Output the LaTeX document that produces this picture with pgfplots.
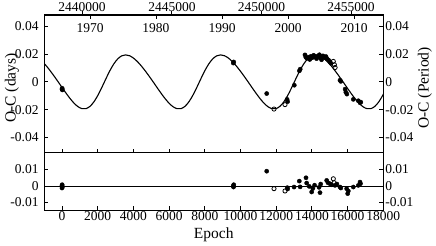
\documentclass[border=0pt]{standalone}
\usepackage{fontspec}
\setmainfont{Liberation Serif}
\usepackage{pgfplots}
\pgfplotsset{compat=1.18}
\pgfplotsset{
  base/.style={scale only axis, width=339.15pt, xmin=-1000, xmax=18000,
    scaled x ticks=false, scaled y ticks=false,
    tick align=inside, major tick length=4pt,
    axis line style={line width=1.1pt},
    every tick/.style={black, line width=0.9pt},
    tick label style={font=\fontsize{13.5}{15}\selectfont},
    label style={font=\fontsize{15.5}{17}\selectfont}},
  filled/.style={only marks, mark=*, mark size=2.1pt, black},
  open/.style={only marks, mark=o, mark size=2.1pt, black, mark options={fill=white, line width=0.8pt}},
}
\begin{document}
\begin{tikzpicture}
\useasboundingbox (0pt,0pt) rectangle (436pt,246pt);
% ---------------- upper panel (main) ----------------
\begin{axis}[base, at={(44.15pt,93.3pt)}, anchor=south west, height=137.7pt,
  ymin=-0.0511, ymax=0.0483,
  xtick={0,2000,...,18000}, xticklabels={}, xtick pos=lower,
  ytick={-0.04,-0.02,0,0.02,0.04}, yticklabels={-0.04,-0.02,0,0.02,0.04},
  ytick pos=left, yticklabel style={xshift=-2pt},
  ylabel={O-C (days)}, ylabel style={at={(axis description cs:-0.095,0.47)}, anchor=center}]
\addplot[black, line width=1.1pt, smooth] coordinates {
(-1089,0.01457) (-867,0.01139) (-646,0.00777) (-424,0.00387) (-202,-0.00019) (19,-0.00432)
(241,-0.00838) (463,-0.01217) (684,-0.01547) (906,-0.01796) (1128,-0.01933) (1349,-0.01928)
(1571,-0.01761) (1793,-0.01430) (2014,-0.00958) (2236,-0.00387) (2458,0.00221) (2679,0.00802)
(2901,0.01296) (3123,0.01662) (3344,0.01880)
(3566,0.01950) (3788,0.01887) (4009,0.01714) (4231,0.01457) (4453,0.01139) (4674,0.00777)
(4896,0.00387) (5118,-0.00019) (5339,-0.00432) (5561,-0.00838) (5783,-0.01217) (6004,-0.01547)
(6226,-0.01796) (6448,-0.01933) (6669,-0.01928) (6891,-0.01761) (7113,-0.01430) (7334,-0.00958)
(7556,-0.00387) (7778,0.00221) (7999,0.00802) (8221,0.01296) (8443,0.01662) (8664,0.01880)
(8886,0.01950) (9108,0.01887) (9329,0.01714) (9551,0.01457) (9773,0.01139) (9994,0.00777)
(10216,0.00387) (10438,-0.00019) (10659,-0.00432) (10881,-0.00838) (11103,-0.01217) (11324,-0.01547)
(11546,-0.01796) (11768,-0.01933) (11989,-0.01928) (12211,-0.01761) (12433,-0.01430) (12654,-0.00958)
(12876,-0.00387) (13098,0.00221) (13319,0.00802) (13541,0.01296) (13763,0.01662) (13984,0.01880)
(14206,0.01950) (14428,0.01887) (14649,0.01714) (14871,0.01457) (15093,0.01139) (15314,0.00777)
(15536,0.00387) (15758,-0.00019) (15979,-0.00432) (16201,-0.00838) (16423,-0.01217) (16644,-0.01547)
(16866,-0.01796) (17088,-0.01933) (17309,-0.01928) (17531,-0.01761) (17753,-0.01430) (17974,-0.00958)
(18196,-0.00387)};
\addplot[filled] coordinates {
(0,-0.0052) (10,-0.0046) (20,-0.0058)
(9597,0.0136) (9620,0.0144)
(11468,-0.0084)
(12610,-0.0126) (12640,-0.0142)
(13014,-0.0024)
(13300,0.0080) (13345,0.0092)
(13613,0.0195) (13660,0.0178) (13720,0.0170) (13800,0.0178) (13880,0.0162) (13950,0.0185)
(14020,0.0175) (14100,0.0192) (14180,0.0180) (14260,0.0168) (14330,0.0186) (14420,0.0196)
(14480,0.0172) (14540,0.0160) (14620,0.0188) (14700,0.0176) (14790,0.0183) (14850,0.0166)
(14930,0.0158) (15000,0.0146) (15060,0.0135)
(15574,0.0012) (15620,0.0004)
(15860,-0.0052) (15900,-0.0074) (15960,-0.0088)
(16320,-0.0126)
(16600,-0.0136) (16695,-0.0150) (16740,-0.0146)};
\addplot[open] coordinates {
(11877,-0.0196) (12493,-0.0164) (15200,0.0148) (15260,0.0124) (15300,0.0104)};
\end{axis}
% ---------------- upper panel: JD ticks and right axis ----------------
\begin{axis}[base, at={(44.15pt,93.3pt)}, anchor=south west, height=137.7pt,
  ymin=-0.0511, ymax=0.0483,
  xtick={1120,6157,11182,16196}, xticklabels={2440000,2445000,2450000,2455000},
  xtick pos=upper, xticklabel pos=upper, xtick align=outside,
  xticklabel style={yshift=-4.5pt},
  ytick={-0.04,-0.02,0,0.02,0.04}, yticklabels={-0.04,-0.02,0,0.02,0.04},
  ytick pos=right, yticklabel pos=right, yticklabel style={xshift=-1.5pt},
  ylabel={O-C (Period)}, ylabel style={at={(axis description cs:1.123,0.47)}, anchor=center}]
\end{axis}
% ---------------- upper panel: calendar years inside ----------------
\begin{axis}[base, at={(44.15pt,93.3pt)}, anchor=south west, height=137.7pt,
  ymin=-0.0511, ymax=0.0483,
  xtick={1569,5266,8964,12661,16359}, xticklabels={1970,1980,1990,2000,2010},
  xtick pos=upper, xticklabel pos=upper,
  xticklabel style={anchor=north, yshift=-5pt},
  ytick=\empty]
\end{axis}
% ---------------- lower panel ----------------
\begin{axis}[base, at={(44.15pt,35.7pt)}, anchor=south west, height=57.6pt,
  ymin=-0.0147, ymax=0.0202,
  xtick={0,2000,...,18000},
  xticklabels={0,2000,4000,6000,8000,10000,12000,14000,16000,18000},
  xtick pos=lower, xticklabel style={yshift=2pt},
  ytick={-0.01,0,0.01}, yticklabels={-0.01,0,0.01},
  ytick pos=left, yticklabel style={xshift=-2pt},
  xlabel={Epoch}, xlabel style={at={(axis description cs:0.5,-0.43)}, anchor=center}]
\addplot[black, line width=0.9pt] coordinates {(-1000,0) (18000,0)};
\addplot[filled] coordinates {
(0,-0.0012) (0,0.0003) (20,-0.0006) (10,0.0008)
(9597,0.0) (9620,0.0008) (9610,-0.0006)
(11468,0.0090)
(12622,-0.0010) (12640,-0.0018)
(13000,-0.0006) (13295,0.0030) (13340,-0.0005)
(13670,0.0050) (13707,0.0018) (13850,-0.0002) (13987,-0.0036) (14050,-0.0015)
(14150,0.0005) (14400,-0.0008) (14454,-0.0040) (14493,0.0012)
(14828,0.0034) (14900,0.0020) (15014,0.0014) (15100,0.0008) (15294,0.0004) (15400,0.0012)
(15574,-0.0006) (15620,-0.0012) (15947,-0.0016) (16005,-0.0046) (16040,-0.0030)
(16320,-0.0006) (16600,0.0004) (16695,0.0024) (16720,0.0014)};
\addplot[open] coordinates {
(11877,-0.0016) (12493,-0.0030) (15200,0.0044) (15250,0.0020)};
\end{axis}
% ---------------- lower panel: right axis ----------------
\begin{axis}[base, at={(44.15pt,35.7pt)}, anchor=south west, height=57.6pt,
  ymin=-0.0147, ymax=0.0202, xtick=\empty,
  ytick={-0.01,0,0.01}, yticklabels={-0.01,0,0.01},
  ytick pos=right, yticklabel pos=right, yticklabel style={xshift=-1.5pt}]
\end{axis}
\end{tikzpicture}
\end{document}
